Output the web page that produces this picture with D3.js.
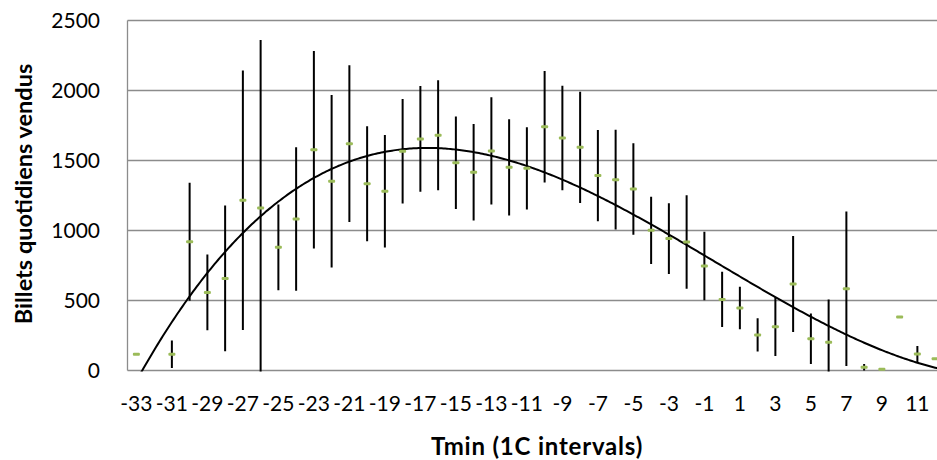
<!DOCTYPE html>
<html>
<head>
<meta charset="utf-8">
<script src="https://cdn.jsdelivr.net/npm/d3@7"></script>
<style>
  html, body { margin: 0; padding: 0; background: #fff; }
  svg { display: block; font-family: Lato, "Open Sans", sans-serif; }
</style>
</head>
<body>
<svg id="chart" width="937" height="460"></svg>
<script>
// Minimum daily temperature, 1 °C bins
const tmin = [-33, -32, -31, -30, -29, -28, -27, -26, -25, -24, -23, -22, -21, -20, -19, -18,
              -17, -16, -15, -14, -13, -12, -11, -10, -9, -8, -7, -6, -5, -4, -3, -2,
              -1, 0, 1, 2, 3, 4, 5, 6, 7, 8, 9, 10, 11, 12];

// Mean tickets sold per day in each bin
const ticketsMean = [116, null, 116, 920, 558, 658, 1216, 1161, 880, 1082, 1577, 1351, 1620, 1334, 1280, 1566,
                     1654, 1680, 1484, 1416, 1568, 1451, 1444, 1741, 1661, 1594, 1392, 1363, 1296, 1001, 942, 918,
                     746, 508, 446, 254, 313, 618, 227, 201, 584, 23, 9, 382, 118, 84];

// Spread drawn above and below each mean
const ticketsError = [null, null, 98, 421, 270, 521, 927, 1200, 306, 513, 705, 616, 560, 411, 402, 374,
                      378, 393, 331, 344, 383, 344, 294, 398, 373, 397, 326, 356, 327, 240, 252, 334,
                      245, 197, 152, 119, 210, 343, 181, 307, 551, 23, null, null, 57, null];

const xTickLabels = [-33, -31, -29, -27, -25, -23, -21, -19, -17, -15, -13, -11, -9, -7, -5, -3, -1, 1, 3, 5, 7, 9, 11];
const yTicks = [0, 500, 1000, 1500, 2000, 2500];
const trendDegree = 3;

const svg = d3.select("#chart");
const plot = { left: 127.5, top: 20.5, bottom: 370.5, step: 17.75 };
plot.right = plot.left + plot.step * tmin.length;

const x = d3.scaleBand().domain(tmin).range([plot.left, plot.right]).padding(0);
const y = d3.scaleLinear().domain([0, 2500]).range([plot.bottom, plot.top]);
const cx = v => x(v) + x.bandwidth() / 2;
// continuous position for the trend curve, aligned with the band centres
const xc = d3.scaleLinear().domain([tmin[0], tmin[tmin.length - 1]])
  .range([cx(tmin[0]), cx(tmin[tmin.length - 1])]);

svg.append("defs").append("clipPath").attr("id", "plotClip")
  .append("rect").attr("x", plot.left).attr("y", plot.top - 1)
  .attr("width", plot.right - plot.left).attr("height", plot.bottom - plot.top + 2);

// Horizontal gridlines
svg.append("g").selectAll("line").data(yTicks).join("line")
  .attr("x1", plot.left).attr("x2", plot.right)
  .attr("y1", d => y(d)).attr("y2", d => y(d))
  .attr("stroke", "#8c8c8c").attr("stroke-width", 1.3);

// Value axis line
svg.append("line").attr("x1", plot.left).attr("x2", plot.left)
  .attr("y1", plot.top).attr("y2", plot.bottom)
  .attr("stroke", "#8c8c8c").attr("stroke-width", 1.3);

// Y tick labels
const yAxis = d3.axisLeft(y).tickValues(yTicks).tickFormat(d3.format("d")).tickSize(0).tickPadding(27.5);
const gy = svg.append("g").attr("transform", `translate(${plot.left},0)`).call(yAxis);
gy.select(".domain").remove();
gy.selectAll("text").attr("font-size", 21).attr("fill", "#000").attr("font-family", "Lato, sans-serif");

// X tick labels (every second bin)
const xAxis = d3.axisBottom(x).tickValues(xTickLabels).tickSize(0).tickPadding(26);
const gx = svg.append("g").attr("transform", `translate(0,${plot.bottom})`).call(xAxis);
gx.select(".domain").remove();
gx.selectAll("text").attr("font-size", 21).attr("fill", "#000").attr("font-family", "Lato, sans-serif");

const marks = svg.append("g").attr("clip-path", "url(#plotClip)");

// Error bars
const pts = tmin.map((t, i) => ({ t, m: ticketsMean[i], e: ticketsError[i] }));
marks.append("g").selectAll("line").data(pts.filter(d => d.m != null && d.e != null)).join("line")
  .attr("x1", d => cx(d.t)).attr("x2", d => cx(d.t))
  .attr("y1", d => y(d.m + d.e)).attr("y2", d => y(d.m - d.e))
  .attr("stroke", "#000").attr("stroke-width", 2);

// Polynomial least-squares trend through the means
function polyFit(xs, ys, deg) {
  const n = deg + 1;
  const A = Array.from({ length: n }, () => new Array(n + 1).fill(0));
  xs.forEach((xv, k) => {
    for (let r = 0; r < n; r++) {
      for (let c = 0; c < n; c++) A[r][c] += Math.pow(xv, r + c);
      A[r][n] += ys[k] * Math.pow(xv, r);
    }
  });
  for (let p = 0; p < n; p++) {
    let best = p;
    for (let r = p + 1; r < n; r++) if (Math.abs(A[r][p]) > Math.abs(A[best][p])) best = r;
    [A[p], A[best]] = [A[best], A[p]];
    for (let r = 0; r < n; r++) {
      if (r === p) continue;
      const f = A[r][p] / A[p][p];
      for (let c = p; c <= n; c++) A[r][c] -= f * A[p][c];
    }
  }
  const coef = A.map((row, i) => row[n] / row[i]);
  return v => coef.reduce((s, c, i) => s + c * Math.pow(v, i), 0);
}
const valid = pts.filter(d => d.m != null);
const scaleT = t => (t + 10.5) / 10;
const trend = polyFit(valid.map(d => scaleT(d.t)), valid.map(d => d.m), trendDegree);
const samples = d3.range(-34, 12.51, 0.1);
marks.append("path")
  .datum(samples)
  .attr("fill", "none").attr("stroke", "#000").attr("stroke-width", 2)
  .attr("d", d3.line().x(t => xc(t)).y(t => y(trend(scaleT(t)))));

// Mean markers
marks.append("g").selectAll("rect").data(valid).join("rect")
  .attr("x", d => cx(d.t) - 3.5).attr("y", d => y(d.m) - 1.5)
  .attr("width", 7).attr("height", 3).attr("rx", 1)
  .attr("fill", "#9bbb59");

// Axis titles
svg.append("text").attr("x", 537).attr("y", 455).attr("text-anchor", "middle")
  .attr("font-size", 24).attr("font-weight", "bold").attr("letter-spacing", 0.8)
  .text("Tmin (1C intervals)");
svg.append("text").attr("transform", "translate(32,194) rotate(-90)").attr("text-anchor", "middle")
  .attr("font-size", 23.5).attr("font-weight", "bold").text("Billets quotidiens vendus");
</script>
</body>
</html>
